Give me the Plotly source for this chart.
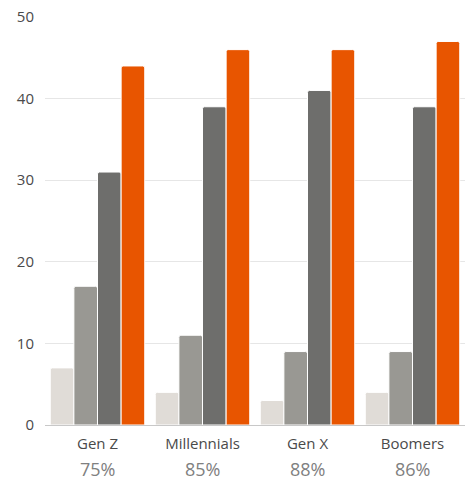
import plotly.graph_objects as go

categories = ["Gen Z", "Millennials", "Gen X", "Boomers"]
shares = ["75%", "85%", "88%", "86%"]
series_a = [7, 4, 3, 4]
series_b = [17, 11, 9, 9]
series_c = [31, 39, 41, 39]
series_d = [44, 46, 46, 47]
y_ticks = [0, 10, 20, 30, 40, 50]

colors = ["#e0dcd7", "#999893", "#6e6e6c", "#e85500"]

fig = go.Figure()
for vals, col in zip([series_a, series_b, series_c, series_d], colors):
    fig.add_trace(go.Bar(
        x=categories, y=vals,
        marker=dict(color=col, line=dict(color="white", width=1), cornerradius=2),
        showlegend=False,
    ))

# share percentage under each category label
for c, s in zip(categories, shares):
    fig.add_annotation(
        x=c, xref="x", y=-0.108, yref="paper", yanchor="middle",
        text=s, showarrow=False,
        font=dict(family="Open Sans", size=18, color="#808080"),
    )

fig.update_layout(
    width=471, height=481,
    margin=dict(l=45, r=6, t=15, b=56),
    barmode="group", bargap=0.1, bargroupgap=0,
    plot_bgcolor="white", paper_bgcolor="white",
    font=dict(family="Open Sans", size=15, color="#4a4a4a"),
)
fig.update_xaxes(
    showline=True, linecolor="#c8c8c8", linewidth=1,
    showgrid=False, ticks="", ticklabelstandoff=5,
)
fig.update_yaxes(
    range=[0, 50], tickvals=y_ticks,
    showgrid=True, gridcolor="#e6e6e6", gridwidth=1,
    zeroline=False, ticks="", ticklabelstandoff=10,
)

fig.write_html("out.html")
